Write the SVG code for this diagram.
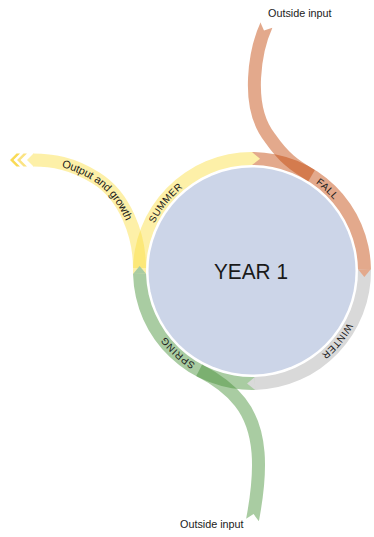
<svg xmlns="http://www.w3.org/2000/svg" width="374" height="537" viewBox="0 0 374 537">
<style>
.lbl{font-family:"Liberation Sans",Arial,sans-serif;fill:#1a1a1a}
.ring{font-size:9.8px;letter-spacing:0.8px}
.flow{fill:none;stroke-width:13;stroke-linecap:butt;stroke-opacity:0.464}
.y{fill:#FDF0A8}.o{fill:#E3A98C}.g{fill:#D9D9D9}.gr{fill:#A9CCA2}
</style>
<defs>
<path id="tpSummer" d="M 150.9 221.7 A 112.5 112.5 0 0 1 213.5 165.3"/>
<path id="tpFall" d="M 318.1 180.0 A 112.5 112.5 0 0 1 357.7 232.5"/>
<path id="tpWinter" d="M 350.9 324.7 A 112.5 112.5 0 0 1 299.5 373.0"/>
<path id="tpSpring" d="M 193.2 366.9 A 112.5 112.5 0 0 1 146.3 309.5"/>
<path id="tpOut" d="M 33 160 C 52 160, 72 163, 96 178 C 125 196, 139.5 235, 139.5 268"/>
</defs>
<rect width="374" height="537" fill="#fff"/>
<g id="year">
<circle cx="252" cy="271" r="103.5" fill="#CCD5E8"/>
<text class="lbl" x="214" y="279" font-size="22" textLength="74" lengthAdjust="spacingAndGlyphs">YEAR  1</text>
</g>
<g id="ring-bands">
<path id="summer-band" class="y" d="M 133.04 274.12 A 119 119 0 0 1 252 152 L 252 165 A 106 106 0 0 0 146.04 273.78 Z"/>
<path id="fall-band" class="o" d="M 252 152 A 119 119 0 0 1 370.98 268.92 L 357.98 269.15 A 106 106 0 0 0 252 165 Z"/>
<path id="winter-band" class="g" d="M 370.98 268.92 A 119 119 0 0 1 255.12 389.96 L 254.78 376.96 A 106 106 0 0 0 357.98 269.15 Z"/>
<path id="spring-band" class="gr" d="M 255.12 389.96 A 119 119 0 0 1 133.04 274.12 L 146.04 273.78 A 106 106 0 0 0 254.78 376.96 Z"/>
</g>
<g id="connectors">
<path id="fall-input" class="flow" stroke="#C34607" d="M 266.5 25 C 256 48, 244 105, 270 138 C 284 158, 294 165.4, 311.6 175.6"/>
<path id="spring-input" class="flow" stroke="#469137" d="M 252.5 520 C 262 470, 262 430, 240 402 C 229 388, 211.4 376.6, 199.2 370.3"/>
<path id="output" class="flow" stroke="#FBDF44" d="M 33 160 C 52 160, 72 163, 96 178 C 125 196, 139.5 235, 139.5 268"/>
<polygon class="y" points="33.5,153.5 33.5,166.5 27,160"/>
<polygon fill="#F9DA55" points="10,160 16.5,153.5 20,153.5 13.5,160 20,166.5 16.5,166.5"/>
<polygon fill="#FBE382" points="17,160 23.5,153.5 27,153.5 20.5,160 27,166.5 23.5,166.5"/>
<polygon fill="#fff" points="259.6,20.4 274.6,26.9 264,30.5"/>
<polygon fill="#fff" points="244.2,520 260.2,523 253.6,514.1"/>
</g>
<g id="ring-tips">
<polygon class="y" points="252,152 260.04,158.79 252,165"/>
<polygon class="o" points="370.98,268.92 364.35,276.89 357.98,269.15"/>
<polygon class="g" points="255.12,389.96 247.09,383.39 254.78,376.96"/>
<polygon class="gr" points="133.04,274.12 139.62,265.9 146.04,273.78"/>
</g>
<g id="labels">
<text class="lbl ring" dominant-baseline="central"><textPath href="#tpSummer">SUMMER</textPath></text>
<text class="lbl ring" dominant-baseline="central"><textPath href="#tpFall">FALL</textPath></text>
<text class="lbl ring" dominant-baseline="central"><textPath href="#tpWinter">WINTER</textPath></text>
<text class="lbl ring" dominant-baseline="central"><textPath href="#tpSpring">SPRING</textPath></text>
<text class="lbl" font-size="11" dominant-baseline="central"><textPath href="#tpOut" startOffset="30">Output and growth</textPath></text>
<text class="lbl" x="268" y="17" font-size="10.8">Outside input</text>
<text class="lbl" x="180" y="528" font-size="10.8">Outside input</text>
</g>
</svg>
